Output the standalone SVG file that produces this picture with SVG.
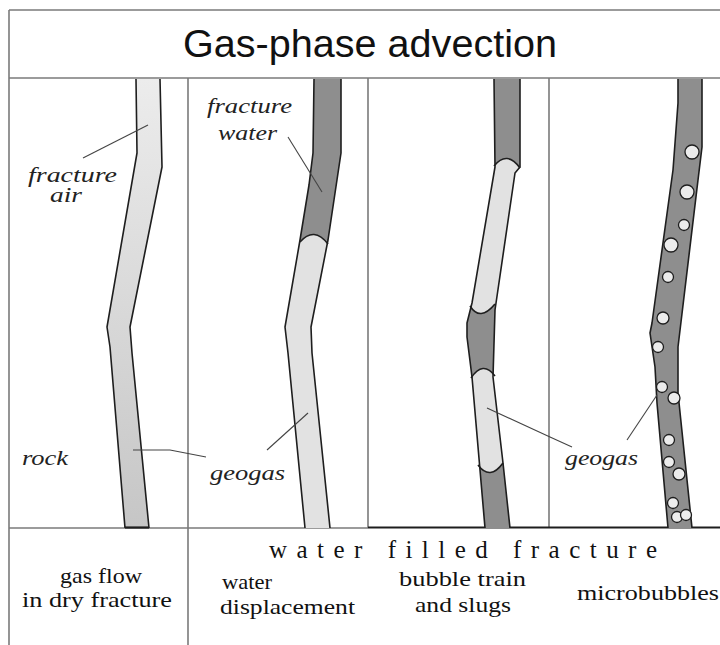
<svg xmlns="http://www.w3.org/2000/svg" width="720" height="645" viewBox="0 0 720 645">
  <style>
    .frame { stroke: #7a7a7a; stroke-width: 1.6; fill: none; }
    .edge { stroke: #1e1e1e; stroke-width: 1.6; fill: none; stroke-linejoin: round; }
    .water { fill: #8e8e8e; }
    .gas { fill: #e2e2e2; }
    .lead { stroke: #444; stroke-width: 1.1; fill: none; }
    .bubble { fill: #ececec; stroke: #1e1e1e; stroke-width: 1.3; }
    .lbl { font-family: "Liberation Serif", "Times New Roman", serif; font-style: italic; font-size: 20px; fill: #222; }
    .cap { font-family: "Liberation Serif", "Times New Roman", serif; font-size: 21px; fill: #111; }
    .cap.wide { font-size: 25px; }
    .title { font-family: "Liberation Sans", Arial, sans-serif; font-size: 38px; fill: #111; }
  </style>
  <defs>
    <linearGradient id="airFill" x1="0" y1="0" x2="0" y2="1">
      <stop offset="0" stop-color="#ececec"/>
      <stop offset="1" stop-color="#c6c6c6"/>
    </linearGradient>
    <clipPath id="clipF2">
      <polygon points="314,79 313,153 309,185 300,240 285,327 288,353 305,528 330,528 312,353 311,327 328,240 341,153 341,79"/>
    </clipPath>
    <clipPath id="clipF3">
      <polygon points="494,79 495,167 472,303 467,323 467,337 472,377 485,528 510,528 503,463 493,377 495,310 515,173 520,167 520,79"/>
    </clipPath>
  </defs>

  <rect x="0" y="0" width="720" height="645" fill="#ffffff"/>

  <!-- frame and panel dividers -->
  <g id="frame">
    <line class="frame" x1="9" y1="10" x2="720" y2="10" stroke="#555"/>
    <line class="frame" x1="9" y1="10" x2="9" y2="645"/>
    <line class="frame" x1="9" y1="78" x2="720" y2="78"/>
    <line class="frame" x1="188" y1="78" x2="188" y2="645"/>
    <line class="frame" x1="368" y1="78" x2="368" y2="528"/>
    <line class="frame" x1="549" y1="78" x2="549" y2="528"/>
    <line class="frame" x1="9" y1="528" x2="368" y2="528"/>
    <line x1="368" y1="527.5" x2="720" y2="527.5" stroke="#1e1e1e" stroke-width="2.2"/>
  </g>

  <g id="title">
    <text class="title" x="183" y="57" textLength="374" lengthAdjust="spacingAndGlyphs">Gas-phase advection</text>
  </g>

  <!-- panel 1: gas flow in a dry fracture -->
  <g id="fracture-dry">
    <polygon fill="url(#airFill)" points="136,79 137,153 107,327 110,347 125,528 149,528 132,353 130,327 162,167 160,79"/>
    <polyline class="edge" points="136,79 137,153 107,327 110,347 125,528"/>
    <polyline class="edge" points="160,79 162,167 130,327 132,353 149,528"/>
    <line x1="125" y1="527.5" x2="149" y2="527.5" stroke="#1e1e1e" stroke-width="2.2"/>
  </g>

  <!-- panel 2: water displacement -->
  <g id="fracture-displacement">
    <g clip-path="url(#clipF2)">
      <rect class="water" x="280" y="79" width="70" height="450"/>
      <path class="gas" d="M280,242 L300,242 Q314,226 328,244 L350,244 L350,530 L280,530 Z"/>
    </g>
    <path class="edge" d="M300,242 Q314,226 328,244"/>
    <polyline class="edge" points="314,79 313,153 309,185 300,240 285,327 288,353 305,528"/>
    <polyline class="edge" points="341,79 341,153 328,240 311,327 312,353 330,528"/>
  </g>

  <!-- panel 3: bubble train and slugs -->
  <g id="fracture-slugs">
    <g clip-path="url(#clipF3)">
      <rect class="water" x="460" y="79" width="70" height="450"/>
      <path class="gas" d="M480,166 L494,166 Q507,150 521,168 L530,168 L530,300 L495,304 Q480,322 470,306 L460,306 L460,166 Z"/>
      <path class="gas" d="M460,378 L471,378 Q483,360 495,376 L530,376 L530,463 L503,463 Q490,481 478,465 L460,465 Z"/>
    </g>
    <path class="edge" d="M494,166 Q507,150 520,168"/>
    <path class="edge" d="M470,306 Q480,322 495,304"/>
    <path class="edge" d="M471,378 Q483,360 495,376"/>
    <path class="edge" d="M478,465 Q490,481 503,463"/>
    <polyline class="edge" points="494,79 495,167 472,303 467,323 467,337 472,377 485,528"/>
    <polyline class="edge" points="520,79 520,167 515,173 495,310 493,377 503,463 510,528"/>
  </g>

  <!-- panel 4: microbubbles -->
  <g id="fracture-microbubbles">
    <polygon class="water" points="678,79 678,103 673,170 652,323 650,333 655,367 657,403 668,528 692,528 678,393 678,347 698,180 702,147 702,79"/>
    <polyline class="edge" points="678,79 678,103 673,170 652,323 650,333 655,367 657,403 668,528"/>
    <polyline class="edge" points="702,79 702,147 698,180 678,347 678,393 692,528"/>
    <circle class="bubble" cx="692" cy="152" r="7"/>
    <circle class="bubble" cx="687" cy="192" r="7"/>
    <circle class="bubble" cx="684" cy="225" r="5.5"/>
    <circle class="bubble" cx="671" cy="245" r="7"/>
    <circle class="bubble" cx="668" cy="277" r="5.5"/>
    <circle class="bubble" cx="663" cy="318" r="6"/>
    <circle class="bubble" cx="658" cy="347" r="5.5"/>
    <circle class="bubble" cx="662" cy="387" r="5.5"/>
    <circle class="bubble" cx="674" cy="398" r="6"/>
    <circle class="bubble" cx="669" cy="440" r="5.5"/>
    <circle class="bubble" cx="669" cy="462" r="5.5"/>
    <circle class="bubble" cx="679" cy="474" r="6"/>
    <circle class="bubble" cx="673" cy="503" r="5.5"/>
    <circle class="bubble" cx="677" cy="517" r="5.5"/>
    <circle class="bubble" cx="686" cy="515" r="5.5"/>
  </g>

  <!-- leader lines -->
  <g id="connectors">
    <line class="lead" x1="83" y1="158" x2="148" y2="125"/>
    <polyline class="lead" points="133,450 170,450 206,457"/>
    <line class="lead" x1="288" y1="137" x2="322" y2="192"/>
    <line class="lead" x1="267" y1="450" x2="308" y2="413"/>
    <polyline class="lead" points="487,408 550,437 572,447"/>
    <line class="lead" x1="627" y1="440" x2="657" y2="395"/>
  </g>

  <!-- labels inside the panels -->
  <g id="labels">
    <text class="lbl" x="28" y="182" textLength="89" lengthAdjust="spacingAndGlyphs">fracture</text>
    <text class="lbl" x="50" y="202" textLength="32" lengthAdjust="spacingAndGlyphs">air</text>
    <text class="lbl" x="22" y="465" textLength="46" lengthAdjust="spacingAndGlyphs">rock</text>
    <text class="lbl" x="207" y="113" textLength="85" lengthAdjust="spacingAndGlyphs">fracture</text>
    <text class="lbl" x="218" y="140" textLength="59" lengthAdjust="spacingAndGlyphs">water</text>
    <text class="lbl" x="210" y="480" textLength="75" lengthAdjust="spacingAndGlyphs">geogas</text>
    <text class="lbl" x="565" y="465" textLength="73" lengthAdjust="spacingAndGlyphs">geogas</text>
  </g>

  <!-- captions under the panels -->
  <g id="captions">
    <text class="cap wide" x="269" y="558" textLength="388" lengthAdjust="spacing">water filled fracture</text>
    <text class="cap" x="60" y="583" textLength="82" lengthAdjust="spacingAndGlyphs">gas flow</text>
    <text class="cap" x="22" y="607" textLength="150" lengthAdjust="spacingAndGlyphs">in dry fracture</text>
    <text class="cap" x="222" y="589" textLength="50" lengthAdjust="spacingAndGlyphs">water</text>
    <text class="cap" x="220" y="614" textLength="135" lengthAdjust="spacingAndGlyphs">displacement</text>
    <text class="cap" x="399" y="586" textLength="127" lengthAdjust="spacingAndGlyphs">bubble train</text>
    <text class="cap" x="415" y="612" textLength="96" lengthAdjust="spacingAndGlyphs">and slugs</text>
    <text class="cap" x="577" y="600" textLength="142" lengthAdjust="spacingAndGlyphs">microbubbles</text>
  </g>
</svg>
